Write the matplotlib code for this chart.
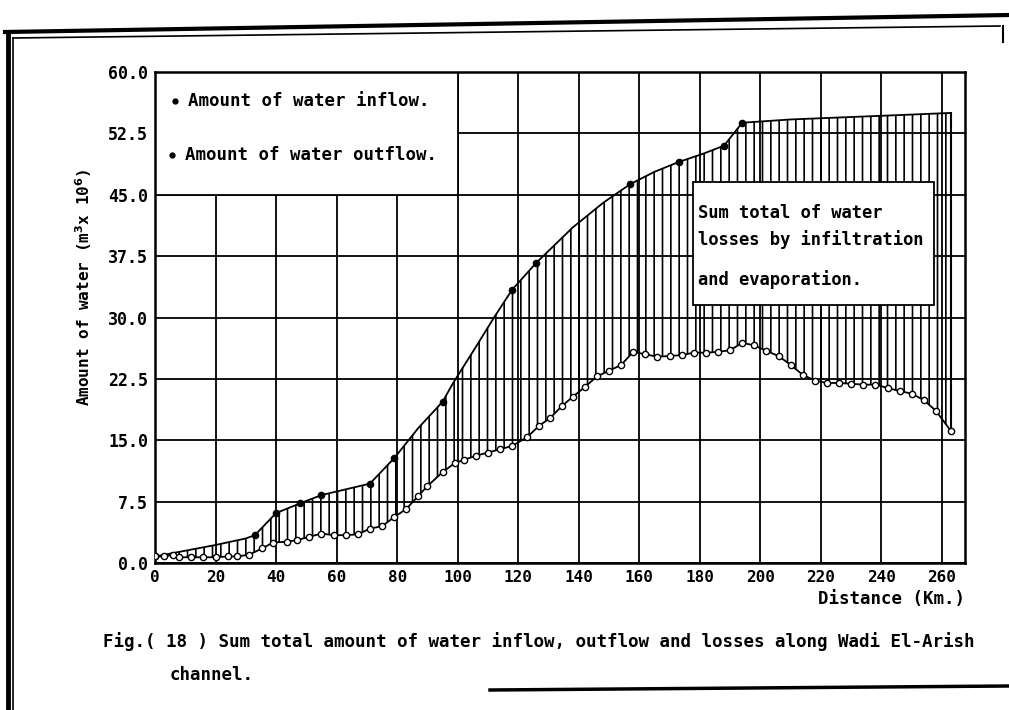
import numpy as np
import matplotlib
matplotlib.use("Agg")
import matplotlib.pyplot as plt
from matplotlib.patches import Rectangle
from matplotlib.lines import Line2D

# ---- data ----
inflow_x = [0, 10, 20, 30, 33, 40, 48, 55, 63, 71, 79, 87, 95, 98.5, 106, 112,
            118, 126, 138, 148, 157, 165, 173, 181, 188, 194, 210, 230, 250, 263]
inflow_y = [0.8, 1.5, 2.2, 3.0, 3.4, 6.1, 7.3, 8.3, 9.0, 9.7, 12.8, 16.5, 19.7, 22.0, 26.4, 30.0,
            33.4, 36.7, 41.0, 44.0, 46.3, 47.8, 49.0, 50.0, 51.0, 53.8, 54.2, 54.5, 54.8, 55.0]
inflow_dots = [0, 33, 40, 48, 55, 71, 79, 95, 118, 126, 157, 173, 188, 194]

outflow_x = [0, 3, 6, 8, 12, 16, 20, 24, 27, 31,
             35.5, 39, 43.5, 47, 51, 55, 59, 63, 67, 71,
             75, 79, 83, 87, 90, 95, 99, 102, 106, 110,
             114, 118, 123, 127, 130.5, 134.5, 138, 142, 146, 150,
             154, 158, 162, 166, 170, 174, 178, 182, 186, 190,
             194, 198, 202, 206, 210, 214, 218, 222, 226, 230,
             234, 238, 242, 246, 250, 254, 258, 263]
outflow_y = [0.8, 0.8, 1.0, 0.7, 0.7, 0.7, 0.7, 0.8, 0.8, 1.0,
             1.8, 2.5, 2.6, 2.8, 3.2, 3.6, 3.4, 3.4, 3.5, 4.2,
             4.5, 5.6, 6.6, 8.2, 9.4, 11.1, 12.2, 12.6, 13.1, 13.5,
             13.9, 14.3, 15.4, 16.8, 17.7, 19.2, 20.3, 21.5, 22.8, 23.5,
             24.2, 25.8, 25.5, 25.2, 25.3, 25.4, 25.7, 25.7, 25.8, 26.0,
             26.9, 26.6, 25.9, 25.3, 24.2, 23.0, 22.3, 22.0, 22.0, 21.9,
             21.8, 21.8, 21.4, 21.0, 20.7, 19.9, 18.6, 16.1]

x_ticks = list(range(0, 261, 20))
y_ticks = [0.0, 7.5, 15.0, 22.5, 30.0, 37.5, 45.0, 52.5, 60.0]

legend_labels = ["Amount of water inflow.", "Amount of water outflow."]
box_lines = ["Sum total of water", "losses by infiltration", "and evaporation."]
caption1 = "Fig.( 18 ) Sum total amount of water inflow, outflow and losses along Wadi El-Arish"
caption2 = "channel."

# ---- style ----
plt.rcParams['font.family'] = ['DejaVu Sans Mono']
plt.rcParams['font.weight'] = 'bold'
plt.rcParams['hatch.linewidth'] = 1.2

fig = plt.figure(figsize=(10.09, 7.10), dpi=100)
ax = fig.add_axes([155/1009, 1-563/710, (965-155)/1009, (563-72)/710])
ax.set_xlim(0, 267.6)
ax.set_ylim(0, 60)
ax.set_xticks(x_ticks)
ax.set_yticks(y_ticks)
ax.set_yticklabels([f"{v:.1f}" for v in y_ticks])
ax.tick_params(axis='x', labelsize=11.5, length=0, pad=5)
ax.tick_params(axis='y', labelsize=12, length=0, pad=5)
for lab in ax.get_xticklabels() + ax.get_yticklabels():
    lab.set_fontweight('bold')
ax.set_axisbelow(True)
ax.grid(True, color='black', linewidth=1.3)
for s in ax.spines.values():
    s.set_linewidth(1.8)
    s.set_color('black')

# white legend area covering the grid
ax.add_patch(Rectangle((0, 45), 100, 15, facecolor='white', edgecolor='black',
                       linewidth=1.3, zorder=1.5))

# hatched losses region between the curves
xs = np.union1d(inflow_x, outflow_x)
inf_i = np.interp(xs, inflow_x, inflow_y)
out_i = np.interp(xs, outflow_x, outflow_y)
ax.fill_between(xs, out_i, inf_i, facecolor='none', edgecolor='black',
                hatch='||', linewidth=0, zorder=2)
ax.vlines(inflow_x[-1], outflow_y[-1], inflow_y[-1], color='black', linewidth=1.5, zorder=3)

# curves
ax.plot(inflow_x, inflow_y, color='black', linewidth=1.3, zorder=3)
dx = [x for x in inflow_x if x in inflow_dots]
dy = [y for x, y in zip(inflow_x, inflow_y) if x in inflow_dots]
ax.plot(dx, dy, 'o', color='black', markersize=4.5, zorder=4)
ax.plot(outflow_x, outflow_y, color='black', linewidth=1.3, zorder=3)
ax.plot(outflow_x, outflow_y, 'o', markerfacecolor='white', markeredgecolor='black',
        markersize=4.5, markeredgewidth=1.0, zorder=4)

# legend text
ax.plot([6.6], [56.4], 'o', color='black', markersize=3.5, zorder=5)
ax.text(10.8, 56.4, legend_labels[0], fontsize=12.5, fontweight='bold', va='center', zorder=5)
ax.plot([5.6], [49.9], 'o', color='black', markersize=3.5, zorder=5)
ax.text(9.8, 49.9, legend_labels[1], fontsize=12.5, fontweight='bold', va='center', zorder=5)

# annotation box
ax.add_patch(Rectangle((177.6, 31.5), 79.8, 15, facecolor='white', edgecolor='black',
                       linewidth=1.3, zorder=5))
for yv, t in zip([42.8, 39.5, 34.6], box_lines):
    ax.text(179.3, yv, t, fontsize=12.3, fontweight='bold', va='center', zorder=6)

# axis labels
fig.text(84/1009, 1-287/710, "Amount of water (m$^3$x 10$^6$)", rotation=90,
         ha='center', va='center', fontsize=11.5, fontweight='bold')
fig.text(965/1009, 1-599/710, "Distance (Km.)", ha='right', va='center',
         fontsize=12.5, fontweight='bold')

# caption
fig.text(103/1009, 1-642/710, caption1, ha='left', va='center', fontsize=12.6, fontweight='bold')
fig.text(170/1009, 1-675/710, caption2, ha='left', va='center', fontsize=12.6, fontweight='bold')

# page frame lines
def fl(x0, y0, x1, y1, lw):
    fig.add_artist(Line2D([x0/1009, x1/1009], [1-y0/710, 1-y1/710], color='black',
                          linewidth=lw, transform=fig.transFigure))

fl(8, 32, 8, 710, 3.5)
fl(13, 38, 13, 710, 1.2)
fl(5, 32, 1009, 15, 3.0)
fl(13, 38, 1000, 26, 1.2)
fl(1003, 26, 1003, 42, 1.5)
fl(490, 690, 1009, 686, 2.5)

fig.savefig("out.png", dpi=100, facecolor='white')
